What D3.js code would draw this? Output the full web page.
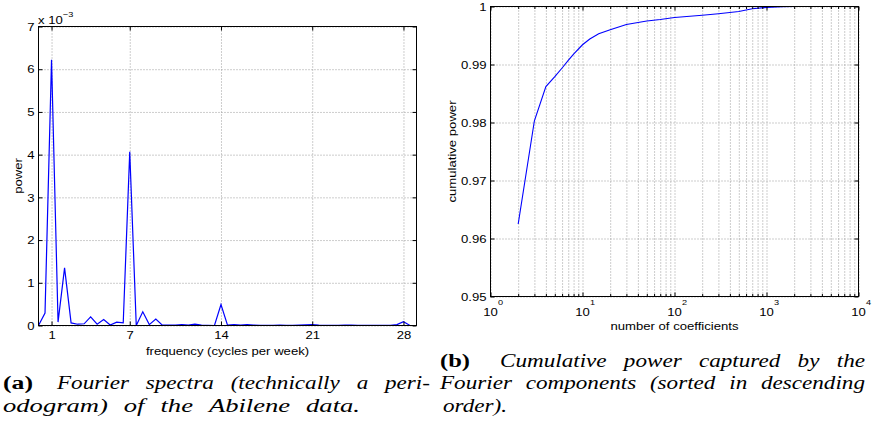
<!DOCTYPE html>
<html>
<head>
<meta charset="utf-8">
<script src="https://cdn.jsdelivr.net/npm/d3@7"></script>
<style>
  body { margin: 0; background: #fff; }
  text { font-family: "Liberation Sans", Arimo, Arial, Helvetica, sans-serif; fill: #000; font-size: 11.5px; }
  .tick text { font-size: 11.5px; font-family: "Liberation Sans", Arimo, Arial, sans-serif; }
  .grid line { stroke: #9a9a9a; stroke-dasharray: 1,2; }
  .grid .domain { display: none; }
  .ax .domain { display: none; }
  .ax line { stroke: #000; }
  .cap { font-family: "Liberation Serif", "DejaVu Serif", serif; font-style: italic; font-size: 18.5px; }
  .capb { font-family: "Liberation Serif", "DejaVu Serif", serif; font-weight: bold; font-size: 18.5px; }
</style>
</head>
<body>
<script>
// ---- panel (a): periodogram, power in units of 1e-3 ----
var freq = [0, 0.5, 1, 1.5, 2, 2.5, 3, 3.5, 4, 4.5, 5, 5.5, 6, 6.5, 7, 7.5, 8, 8.5, 9, 9.5,
            10, 10.5, 11, 11.5, 12, 12.5, 13, 13.5, 14, 14.5, 15, 15.5, 16, 16.5, 17, 17.5,
            18, 18.5, 19, 19.5, 20, 20.5, 21, 21.5, 22, 22.5, 23, 23.5, 24, 24.5, 25, 25.5,
            26, 26.5, 27, 27.5, 28, 28.5, 29];
var power = [0, 0.29, 6.22, 0.08, 1.35, 0.06, 0.03, 0.04, 0.20, 0.03, 0.14, 0.01, 0.08, 0.06,
             4.07, 0, 0.32, 0.02, 0.15, 0.01, 0.01, 0.01, 0.02, 0.01, 0.03, 0.01, 0.005, 0,
             0.49, 0.01, 0.02, 0.01, 0.02, 0.01, 0.005, 0.005, 0.005, 0.01, 0.005, 0.005,
             0.01, 0.015, 0.02, 0.01, 0.005, 0.005, 0.005, 0.01, 0.01, 0.005, 0.005, 0.005,
             0.005, 0.005, 0.005, 0.02, 0.09, 0, 0];
var freqTicks = [1, 7, 14, 21, 28];
var powerTicks = [0, 1, 2, 3, 4, 5, 6, 7];

// ---- panel (b): cumulative power vs number of coefficients ----
var coefN = [2, 3, 4, 5, 6, 7, 8, 10, 12, 15, 20, 30, 50, 70, 100, 200, 300, 500, 700, 1000, 1500, 2048];
var cumPower = [0.9625, 0.9803, 0.9862, 0.9879, 0.9894, 0.9907, 0.9918, 0.9934, 0.9944, 0.9953,
                0.9960, 0.9969, 0.9975, 0.99775, 0.9981, 0.99848, 0.99875, 0.99915, 0.9996,
                0.99985, 0.99998, 1.0];
var cumTicks = [0.95, 0.96, 0.97, 0.98, 0.99, 1];
var cumTickLabels = ["0.95", "0.96", "0.97", "0.98", "0.99", "1"];
var coefTicks = [1, 10, 100, 1000, 10000];
var coefExp = ["0", "1", "2", "3", "4"];

var w = 875, h = 424;
var wide = 1.14; // the figure is printed a bit wider than tall
var svg = d3.select("body").append("svg").attr("width", w).attr("height", h);

function frame(box, x, y, xt, yt) {
  var bw = box.right - box.left, bh = box.bottom - box.top;
  // dotted grid
  svg.append("g").attr("class", "grid")
    .attr("transform", "translate(0," + box.bottom + ")")
    .call(d3.axisBottom(x).tickValues(xt).tickSize(-bh).tickFormat(""));
  svg.append("g").attr("class", "grid")
    .attr("transform", "translate(" + box.left + ",0)")
    .call(d3.axisLeft(y).tickValues(yt).tickSize(-bw).tickFormat(""));
}

function ticks(box, x, y, xt, yt, xfmt, yfmt, len) {
  svg.append("g").attr("class", "ax")
    .attr("transform", "translate(0," + box.bottom + ")")
    .call(d3.axisBottom(x).tickValues(xt).tickSize(-len).tickSizeOuter(0).tickPadding(5.5).tickFormat(xfmt));
  svg.append("g").attr("class", "ax")
    .attr("transform", "translate(0," + box.top + ")")
    .call(d3.axisTop(x).tickValues(xt).tickSize(-len).tickSizeOuter(0).tickFormat(""));
  svg.append("g").attr("class", "ax")
    .attr("transform", "translate(" + box.left + ",0)")
    .call(d3.axisLeft(y).tickValues(yt).tickSize(-len).tickSizeOuter(0).tickPadding(4).tickFormat(yfmt));
  svg.append("g").attr("class", "ax")
    .attr("transform", "translate(" + box.right + ",0)")
    .call(d3.axisRight(y).tickValues(yt).tickSize(-len).tickSizeOuter(0).tickFormat(""));
}

function border(box) {
  svg.append("rect")
    .attr("x", box.left).attr("y", box.top)
    .attr("width", box.right - box.left).attr("height", box.bottom - box.top)
    .attr("fill", "none").attr("stroke", "#000").attr("stroke-width", 1)
    .attr("shape-rendering", "crispEdges");
}

// ---------- panel (a) ----------
var A = {left: 38.5, right: 416.5, top: 26.5, bottom: 325.5};
var xa = d3.scaleLinear().domain([0, 29]).range([A.left, A.right]);
var ya = d3.scaleLinear().domain([0, 7]).range([A.bottom, A.top]);

frame(A, xa, ya, freqTicks, powerTicks);

svg.append("path")
  .datum(d3.zip(freq, power))
  .attr("fill", "none").attr("stroke", "#0000ff").attr("stroke-width", 1.2)
  .attr("d", d3.line().x(function(d){ return xa(d[0]); }).y(function(d){ return ya(d[1]); }));

ticks(A, xa, ya, freqTicks, powerTicks, d3.format("d"), d3.format("d"), 4);
border(A);

svg.append("text").attr("x", 38).attr("y", 24).text("x 10");
svg.append("text").attr("x", 63).attr("y", 17).style("font-size", "8px").text("\u22123");

svg.append("text")
  .attr("transform", "translate(22," + (A.top + A.bottom) / 2 + ") rotate(-90)")
  .style("text-anchor", "middle").text("power");
svg.append("text")
  .attr("x", (A.left + A.right) / 2).attr("y", 354.5)
  .style("text-anchor", "middle").text("frequency (cycles per week)");

// ---------- panel (b) ----------
var B = {left: 490.5, right: 858.5, top: 6.5, bottom: 296.5};
var xb = d3.scaleLog().domain([1, 10000]).range([B.left, B.right]);
var yb = d3.scaleLinear().domain([0.95, 1]).range([B.bottom, B.top]);
var minor = xb.ticks().filter(function(v){ return coefTicks.indexOf(v) < 0; });

frame(B, xb, yb, xb.ticks(), cumTicks);

svg.append("path")
  .datum(d3.zip(coefN, cumPower))
  .attr("fill", "none").attr("stroke", "#0000ff").attr("stroke-width", 1.1)
  .attr("d", d3.line().x(function(d){ return xb(d[0]); }).y(function(d){ return yb(d[1]); }));

ticks(B, xb, yb, coefTicks, cumTicks, function(){ return ""; },
      function(d, i){ return cumTickLabels[i]; }, 4);
// minor log ticks
svg.append("g").attr("class", "ax")
  .attr("transform", "translate(0," + B.bottom + ")")
  .call(d3.axisBottom(xb).tickValues(minor).tickSize(-2.5).tickSizeOuter(0).tickFormat(""));
svg.append("g").attr("class", "ax")
  .attr("transform", "translate(0," + B.top + ")")
  .call(d3.axisTop(xb).tickValues(minor).tickSize(-2.5).tickSizeOuter(0).tickFormat(""));
border(B);

// 10^k labels
coefTicks.forEach(function(v, i){
  svg.append("text").attr("x", xb(v)).attr("y", 316)
    .style("text-anchor", "middle").text("10");
  svg.append("text").attr("x", xb(v) + 7.5).attr("y", 304.5)
    .style("font-size", "8px").text(coefExp[i]);
});

svg.append("text")
  .attr("transform", "translate(455.5," + (B.top + B.bottom) / 2 + ") rotate(-90)")
  .style("text-anchor", "middle").text("cumulative power");
svg.append("text")
  .attr("x", (B.left + B.right) / 2).attr("y", 329.5)
  .style("text-anchor", "middle").text("number of coefficients");

// widen the sans-serif texts like the printed figure
svg.selectAll("text").each(function(){
  var t = d3.select(this);
  if (!t.text()) return;
  t.attr("textLength", this.getComputedTextLength() * wide).attr("lengthAdjust", "spacingAndGlyphs");
});

// ---------- captions ----------
var capLines = [
  {words: ["Fourier", "spectra", "(technically", "a", "peri-"], x0: 57, x1: 430, y: 389, just: true},
  {words: ["odogram)", "of", "the", "Abilene", "data."], x0: 3, x1: 360, y: 411.5, just: true, grow: 1.15},
  {words: ["Cumulative", "power", "captured", "by", "the"], x0: 500, x1: 865, y: 366.5, just: true},
  {words: ["Fourier", "components", "(sorted", "in", "descending"], x0: 440, x1: 865, y: 389, just: true},
  {words: ["order)."], x0: 443, x1: 507, y: 411.5, just: false}
];

var sp = svg.append("text").attr("class", "cap").text("a a");
var space = sp.node().getComputedTextLength();
sp.text("aa");
space = space - sp.node().getComputedTextLength();
sp.remove();

// common glyph stretch so that every line fits its measured width
var stretch = d3.min(capLines, function(l){
  if (l.grow) return Infinity;
  var p = svg.append("text").attr("class", "cap").text(l.words.join(" "));
  var s = (l.x1 - l.x0) / p.node().getComputedTextLength();
  p.remove();
  return s;
});

function label(x, y, t, wd) {
  svg.append("text").attr("class", "capb").attr("x", x).attr("y", y)
    .attr("textLength", wd).attr("lengthAdjust", "spacingAndGlyphs").text(t);
}
function line(l) {
  var s = stretch * (l.grow || 1);
  var nodes = l.words.map(function(t){
    return svg.append("text").attr("class", "cap").attr("y", l.y).text(t);
  });
  var widths = nodes.map(function(n){
    var wd = n.node().getComputedTextLength() * s;
    n.attr("textLength", wd).attr("lengthAdjust", "spacingAndGlyphs");
    return wd;
  });
  var gap = l.just && l.words.length > 1 ?
    (l.x1 - l.x0 - d3.sum(widths)) / (l.words.length - 1) : space * s;
  var x = l.x0;
  nodes.forEach(function(n, i){ n.attr("x", x); x += widths[i] + gap; });
}

label(3, 389, "(a)", 30);
label(440, 366.5, "(b)", 30);
capLines.forEach(line);
</script>
</body>
</html>
